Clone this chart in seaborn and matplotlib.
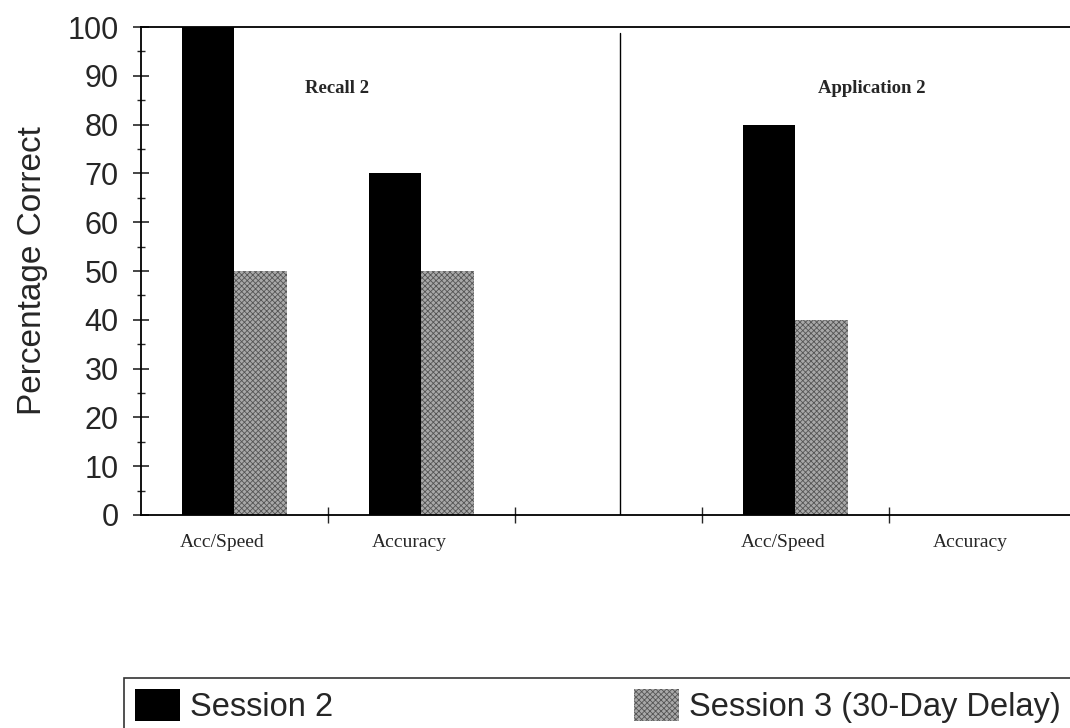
import matplotlib
matplotlib.use("Agg")
import matplotlib.pyplot as plt
import matplotlib.ticker as mticker
import matplotlib.transforms as mtransforms
from matplotlib.patches import Patch
import seaborn as sns
import pandas as pd

# ---- data ----
slots = ["Recall Acc/Speed", "Recall Accuracy", "gap", "Application Acc/Speed", "Application Accuracy"]
slot_labels = ["Acc/Speed", "Accuracy", "", "Acc/Speed", "Accuracy"]
sessions = ["Session 2", "Session 3 (30-Day Delay)"]
session2 = [100, 70, 80, 0]
session3 = [50, 50, 40, 0]
data_slots = ["Recall Acc/Speed", "Recall Accuracy", "Application Acc/Speed", "Application Accuracy"]
panel_titles = ["Recall 2", "Application 2"]

df = pd.DataFrame({
    "slot": data_slots * 2,
    "session": [sessions[0]] * 4 + [sessions[1]] * 4,
    "value": session2 + session3,
})

sns.set_style("white")
plt.rcParams["font.family"] = ["Liberation Sans", "DejaVu Sans"]
plt.rcParams["hatch.linewidth"] = 0.6

fig = plt.figure(figsize=(10.70, 7.28), dpi=100)
ax = fig.add_axes([141 / 1070, (728 - 515) / 728, (1070 - 141) / 1070, (515 - 27) / 728])

sns.barplot(data=df, x="slot", y="value", hue="session", order=slots, hue_order=sessions,
            palette=["#000000", "#a8a8a8"], width=0.56, ax=ax, saturation=1,
            edgecolor="none", linewidth=0, legend=False)

for bar in ax.containers[1]:
    bar.set_hatch("xxxxxx")
    bar.set_edgecolor("#555555")
    bar.set_linewidth(0)

ax.set_xlim(-0.5, 4.468)
ax.set_ylim(0, 100)

# y axis
ax.yaxis.set_major_locator(mticker.MultipleLocator(10))
ax.yaxis.set_minor_locator(mticker.MultipleLocator(5))
ax.tick_params(axis="y", which="major", direction="inout", length=12, width=1.2, labelsize=22, pad=10, left=True)
ax.tick_params(axis="y", which="minor", direction="inout", length=6, width=1, left=True)
ax.set_ylabel("Percentage Correct", fontsize=24, labelpad=14)

# x axis: ticks between slots, labels at slot centers
ax.xaxis.set_major_locator(mticker.FixedLocator([0.5, 1.5, 2.5, 3.5]))
ax.xaxis.set_major_formatter(mticker.NullFormatter())
ax.xaxis.set_minor_locator(mticker.FixedLocator([0, 1, 3, 4]))
ax.xaxis.set_minor_formatter(mticker.FixedFormatter([slot_labels[i] for i in [0, 1, 3, 4]]))
ax.tick_params(axis="x", which="major", direction="inout", length=12, width=1, bottom=True)
ax.tick_params(axis="x", which="minor", length=0, pad=14, bottom=True)
shift = mtransforms.ScaledTranslation(-12 / 100, 0, fig.dpi_scale_trans)
for lab in ax.get_xticklabels(minor=True):
    lab.set_fontfamily("Liberation Serif")
    lab.set_fontsize(14)
    lab.set_transform(lab.get_transform() + shift)
ax.set_xlabel("")

for s in ["top", "left", "bottom"]:
    ax.spines[s].set_linewidth(1.3)
    ax.spines[s].set_color("black")
ax.spines["right"].set_visible(False)

# divider between panels
ax.axvline(2.06, ymin=0, ymax=0.988, color="black", linewidth=1)

# panel titles
ax.text(0.55, 87.5, panel_titles[0], ha="center", va="center", fontsize=13.5,
        family="Liberation Serif", fontweight="bold")
ax.text(3.41, 87.5, panel_titles[1], ha="center", va="center", fontsize=13.5,
        family="Liberation Serif", fontweight="bold")

# legend
handles = [Patch(facecolor="#000000", edgecolor="none"),
           Patch(facecolor="#a8a8a8", edgecolor="#555555", hatch="xxxxxx", linewidth=0)]
top = (728 - 678) / 728
left = 124 / 1070
right = 1072 / 1070
leg = fig.legend(handles, sessions, loc="upper left", ncol=2, mode="expand",
                 bbox_to_anchor=(left, top - 0.2, right - left, 0.2),
                 fontsize=23.5, frameon=True, fancybox=False, borderaxespad=0,
                 handlelength=1.38, handleheight=1.13, handletextpad=0.3, borderpad=0.34)
leg.get_frame().set_edgecolor("black")
leg.get_frame().set_linewidth(1.2)

fig.savefig("out.png", dpi=100)
